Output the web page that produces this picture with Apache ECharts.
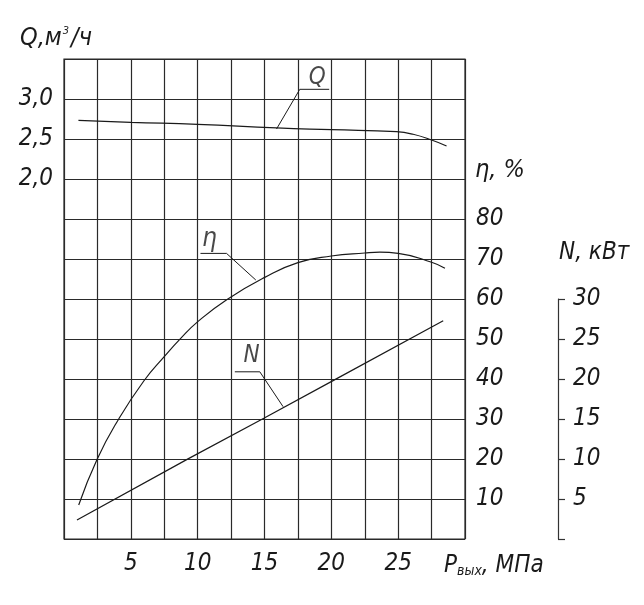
<!DOCTYPE html>
<html><head><meta charset="utf-8">
<script src="https://cdn.jsdelivr.net/npm/echarts@6/dist/echarts.min.js"></script>
<style>html,body{margin:0;padding:0;background:#fff}#c{width:644px;height:605px}</style>
</head><body><div id="c"></div>
<script>
// Q (m3/h) vs P (MPa)
const qP   = [1.08, 5.0, 10.0, 15.9, 20.0, 24.88, 26.12, 27.5, 28.62];
const qVal = [2.734, 2.709, 2.684, 2.638, 2.616, 2.591, 2.559, 2.4875, 2.4125];
// efficiency (%) vs P
const etaP   = [1.10, 2.47, 4.04, 5.97, 7.53, 8.66, 10.03, 12.2, 15.02, 17.5, 20.0, 22.5, 23.63, 25.0, 27.5, 28.5];
const etaVal = [8.5, 19.9, 29.7, 39.5, 45.7, 49.9, 54.4, 59.9, 65.4, 69.1, 70.75, 71.5, 71.7, 71.4, 69.2, 67.7];
// power (kW) vs P
const nP   = [0.97, 9.21, 14.95, 20.13, 28.37];
const nVal = [2.375, 9.95, 15.09, 19.8, 27.29];
// axis tick label sets
const xTickLabels = [5, 10, 15, 20, 25];
const qTickLabels = [2.0, 2.5, 3.0];
const etaTickLabels = [10, 20, 30, 40, 50, 60, 70, 80];
const nTickLabels = [5, 10, 15, 20, 25, 30];
// annotation leaders (data units)
const qLeader   = [[15.9, 2.625], [17.64, 3.121], [19.84, 3.121]];
const etaLeader = [[14.35, 64.75], [12.16, 71.4], [10.21, 71.4]];
const nLeader   = [[16.39, 16.54], [14.65, 20.9], [12.78, 20.9]];
const qTag = [18.95, 3.27], etaTag = [10.87, 74.9], nTag = [14.03, 22.9];

const FONT = "'DejaVu Sans Condensed', 'DejaVu Sans', sans-serif";
const INK = '#1a1a1a';
const near = (v, arr) => arr.some(a => Math.abs(a - v) < 1e-6);
const zip = (a, b) => a.map((x, i) => [x, b[i]]);
const lbl = {fontFamily: FONT, fontStyle: 'italic', fontSize: 24, color: INK};
const gridLine = {show: true, lineStyle: {color: '#2a2a2a', width: 1.2}};

const chart = echarts.init(document.getElementById('c'));
chart.setOption({
  animation: false,
  backgroundColor: '#fff',
  textStyle: {fontFamily: FONT, fontStyle: 'italic'},
  grid: [
    {left: 64, top: 59, width: 401, height: 480, show: true, borderColor: '#2a2a2a', borderWidth: 1.2, backgroundColor: 'transparent'},
    {left: 500, top: 299, width: 58, height: 240}
  ],
  xAxis: [
    {gridIndex: 0, type: 'value', min: 0, max: 30, interval: 2.5,
     splitLine: gridLine, axisLine: {show: false}, axisTick: {show: false},
     axisLabel: Object.assign({margin: 13, formatter: v => near(v, xTickLabels) ? String(v) : ''}, lbl)},
    {gridIndex: 1, type: 'value', min: 0, max: 1, show: false}
  ],
  yAxis: [
    {gridIndex: 0, type: 'value', min: -2.5, max: 3.5, interval: 0.5, position: 'left',
     splitLine: gridLine, axisLine: {show: false}, axisTick: {show: false},
     axisLabel: Object.assign({margin: 11, formatter: v => near(v, qTickLabels) ? v.toFixed(1).replace('.', ',') : ''}, lbl)},
    {gridIndex: 0, type: 'value', min: 0, max: 120, interval: 10, position: 'right',
     splitLine: {show: false}, axisLine: {show: false}, axisTick: {show: false},
     axisLabel: Object.assign({margin: 11, formatter: v => near(v, etaTickLabels) ? String(v) : ''}, lbl)},
    {gridIndex: 0, type: 'value', min: 0, max: 60, show: false},
    {gridIndex: 1, type: 'value', min: 0, max: 30, interval: 5, position: 'right',
     splitLine: {show: false},
     axisLine: {show: true, onZero: false, lineStyle: {color: '#333', width: 1.2}},
     axisTick: {show: true, length: 7, lineStyle: {color: '#333', width: 1.2}},
     axisLabel: Object.assign({margin: 15, formatter: v => near(v, nTickLabels) ? String(v) : ''}, lbl)}
  ],
  series: [
    {name: 'Q', type: 'line', xAxisIndex: 0, yAxisIndex: 0, data: zip(qP, qVal), smooth: 0.5, showSymbol: false, symbol: 'none',
     lineStyle: {color: INK, width: 1.2}},
    {name: 'η', type: 'line', xAxisIndex: 0, yAxisIndex: 1, data: zip(etaP, etaVal), smooth: 0.5, showSymbol: false, symbol: 'none',
     lineStyle: {color: INK, width: 1.2}},
    {name: 'N', type: 'line', xAxisIndex: 0, yAxisIndex: 2, data: zip(nP, nVal), showSymbol: false, symbol: 'none',
     lineStyle: {color: INK, width: 1.2}},
    {type: 'line', xAxisIndex: 0, yAxisIndex: 0, data: qLeader, symbol: 'none', lineStyle: {color: INK, width: 1}},
    {type: 'line', xAxisIndex: 0, yAxisIndex: 1, data: etaLeader, symbol: 'none', lineStyle: {color: INK, width: 1}},
    {type: 'line', xAxisIndex: 0, yAxisIndex: 2, data: nLeader, symbol: 'none', lineStyle: {color: INK, width: 1}},
    {type: 'scatter', xAxisIndex: 0, yAxisIndex: 0, data: [qTag], symbolSize: 1, itemStyle: {color: 'rgba(0,0,0,0)'},
     label: {show: true, position: 'inside', formatter: 'Q', fontFamily: FONT, fontStyle: 'italic', fontSize: 24, color: INK}},
    {type: 'scatter', xAxisIndex: 0, yAxisIndex: 1, data: [etaTag], symbolSize: 1, itemStyle: {color: 'rgba(0,0,0,0)'},
     label: {show: true, position: 'inside', formatter: 'η', fontFamily: FONT, fontStyle: 'italic', fontSize: 26, color: INK}},
    {type: 'scatter', xAxisIndex: 0, yAxisIndex: 2, data: [nTag], symbolSize: 1, itemStyle: {color: 'rgba(0,0,0,0)'},
     label: {show: true, position: 'inside', formatter: 'N', fontFamily: FONT, fontStyle: 'italic', fontSize: 24, color: INK}}
  ],
  graphic: [
    {type: 'text', left: 20, top: 26, style: {
      text: '{a|Q,м}{b|3}{a|/ч}',
      rich: {a: {fontFamily: FONT, fontStyle: 'italic', fontSize: 25, fill: INK, verticalAlign: 'bottom'},
             b: {fontFamily: FONT, fontStyle: 'italic', fontSize: 11, fill: INK, verticalAlign: 'top', padding: [0, 2, 0, 1]}}}},
    {type: 'text', left: 475, top: 158, style: {text: 'η, %', font: 'italic 25px ' + FONT, fill: INK}},
    {type: 'text', left: 559, top: 241, style: {text: 'N, кВт', font: 'italic 24px ' + FONT, fill: INK}},
    {type: 'text', left: 444, top: 554, style: {
      text: '{a|P}{s|вых}{a|, МПа}',
      rich: {a: {fontFamily: FONT, fontStyle: 'italic', fontSize: 24, fill: INK, verticalAlign: 'top'},
             s: {fontFamily: FONT, fontStyle: 'italic', fontSize: 14, fill: INK, verticalAlign: 'bottom'}}}}
  ]
});
</script></body></html>
